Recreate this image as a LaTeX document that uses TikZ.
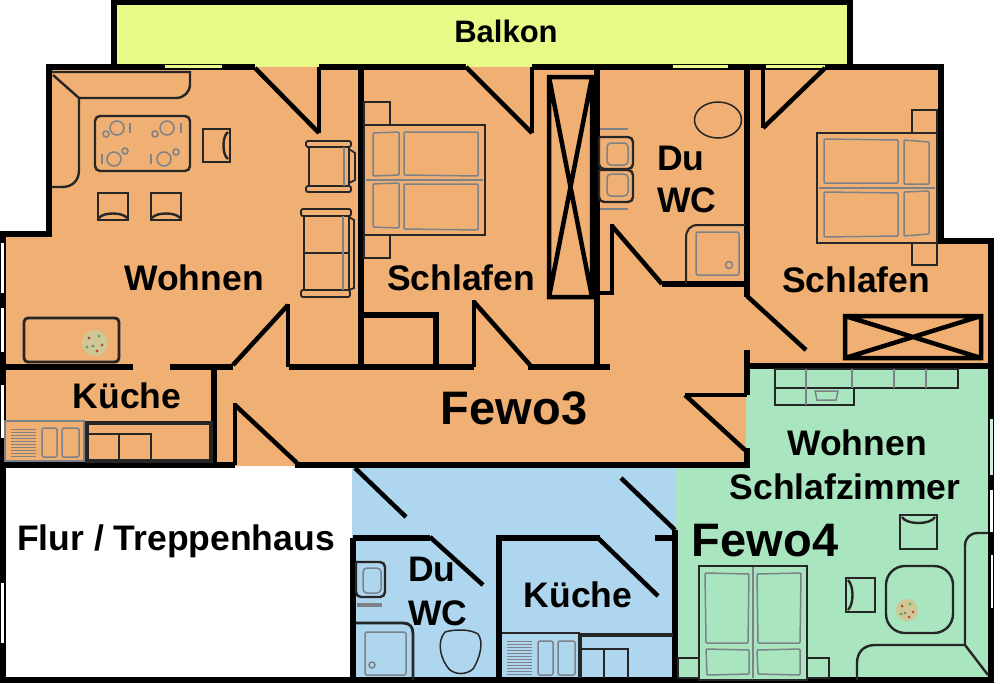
\documentclass[tikz,border=0pt]{standalone}
\usepackage{fontspec}
\setmainfont{Liberation Sans}
\definecolor{balkon}{HTML}{E8F988}
\definecolor{fewoA}{HTML}{F0AF73}
\definecolor{fewoB}{HTML}{AED6EE}
\definecolor{fewoC}{HTML}{A9E6C0}
\definecolor{fitting}{HTML}{7C8288}
\definecolor{flower}{HTML}{CFC796}
\tikzset{
	wall/.style={line width=6pt},
	door/.style={line width=4.5pt},
	stub/.style={line width=4pt},
	mobel/.style={line width=2.4pt,color=black!85},
	soft/.style={line width=1.5pt,color=fitting},
	room/.style={font=\bfseries\fontsize{35.5}{35.5}\selectfont,inner sep=0pt},
	fewo/.style={font=\bfseries\fontsize{47}{47}\selectfont,inner sep=0pt},
}
\begin{document}
\begin{tikzpicture}[x=1pt,y=-1pt]
\useasboundingbox (0,0) rectangle (1000,683);
% floors
\fill [balkon] (114,2) rectangle (850,69);
\fill [fewoB] (352,466) rectangle (680,680);
\fill [fewoC] (675,366) rectangle (991,680);
\fill [fewoA] (49,67) -- (941,67) -- (941,241) -- (991,241) -- (991,366)
	-- (746,366) -- (746,466) -- (3,466) -- (3,234) -- (49,234) -- cycle;
% balcony
\draw [wall] (114,67) -- (114,2) -- (850,2) -- (850,67);
% outer walls
\draw [wall] (255,67) -- (49,67) -- (49,234) -- (3,234) -- (3,680) -- (991,680) -- (991,241) -- (941,241) -- (941,67) -- (532,67);
\draw [wall] (319,67) -- (466,67);
\draw [wall] (3,465) -- (235,465);
\draw [wall] (295,465) -- (750,465);
\fill [balkon] (165,65) rectangle (222,68);
\fill [balkon] (673,65) rectangle (728,68);
\fill [balkon] (766,65) rectangle (825,68);
\foreach \ya/\yb in {243/293,308/352,385/438,583/643}
	\fill [white] (1,\ya) rectangle (4,\yb);
\fill [fewoC!60!white] (989.5,419) rectangle (993,475);
\fill [white] (990,490) rectangle (993,532);
\fill [white] (990.5,555) rectangle (993,608);
% inner walls
\draw [wall] (361,67) -- (361,367);
\draw [wall] (597,67) -- (597,367);
\draw [wall] (747,67) -- (747,297);
\draw [wall] (662,284) -- (747,284);
\draw [wall] (747,350) -- (747,366) -- (991,366);
\draw [wall] (3,367) -- (133,367);
\draw [wall] (170,367) -- (233,367);
\draw [wall] (289,367) -- (474,367);
\draw [wall] (528,367) -- (610,367);
\draw [wall] (214,367) -- (214,465);
\draw [wall] (361,315) -- (436,315) -- (436,367);
\draw [wall] (747,366) -- (747,395);
\draw [wall] (747,448) -- (747,465);
\draw [wall] (353,538) -- (353,680);
\draw [wall] (353,538) -- (430,538);
\draw [wall] (499,680) -- (499,538) -- (600,538);
\draw [wall] (675,530) -- (675,680);
\draw [wall] (655,538) -- (675,538);
% doors
\draw [door] (255,68) -- (319,133);
\draw [stub] (319,133) -- (319,67);
\draw [door] (466,67) -- (532,133);
\draw [stub] (532,133) -- (532,67);
\draw [door] (233,365) -- (288,305);
\draw [stub] (288,304) -- (288,367);
\draw [door] (474,302) -- (530,365);
\draw [stub] (474,300) -- (474,367);
\draw [door] (235,405) -- (297,463);
\draw [stub] (235,403) -- (235,465);
\draw [door] (612,226) -- (662,284);
\draw [stub] (612,224) -- (612,293) -- (597,293);
\draw [door] (825,68) -- (763,128);
\draw [stub] (763,128) -- (763,67);
\draw [door] (747,296) -- (806,350);
\draw [door] (685,395) -- (745,450);
\draw [stub] (685,395) -- (747,395);
\draw [door] (355,468) -- (406,517);
\draw [door] (430,537) -- (483,585);
\draw [door] (598,538) -- (658,596);
\draw [door] (621,478) -- (675,530);
% wardrobes
\draw [door] (549,77) rectangle (592,297) (549,77) -- (592,297) (592,77) -- (549,297);
\draw [door] (845,316) rectangle (981,358) (845,316) -- (981,358) (981,316) -- (845,358);
% wohnen
\draw [mobel] (52,72) -- (190,72) -- (190,84) .. controls (190,92) and (184,98) .. (176,98) -- (79,98) -- (79,170) .. controls (79,180) and (73,187) .. (62,187) -- (52,187);
\draw [mobel] (53,75) -- (79,98);
\draw [mobel,rounded corners=5pt] (95,116) rectangle (190,171);
\foreach \cx/\cy/\sx/\sy/\bx in {117/128/106/134/130,167/128/155/134/181,114/159/125/151/102,164/159/176/152/151} {
	\draw [soft] (\cx,\cy) circle (7) (\sx,\sy) circle (3);
	\draw [soft] (\bx,\cy-5) -- (\bx,\cy+5);
}
\draw [mobel] (203,129) rectangle (230,162);
\draw [mobel] (228,132) .. controls (222,136) and (222,155) .. (228,159);
\foreach \cx in {98,151} {
	\draw [mobel] (\cx,193) rectangle (\cx+30,220);
	\draw [mobel] (\cx+1,218) .. controls (\cx+5,212) and (\cx+25,212) .. (\cx+29,218);
}
\draw [mobel,line width=1.8pt,rounded corners=2pt] (306,141) rectangle (351,147);
\draw [mobel,line width=1.8pt,rounded corners=2pt] (306,186) rectangle (351,192);
\draw [mobel,line width=1.8pt] (309,147) -- (309,186) (349,147) -- (349,186);
\draw [mobel,line width=1.8pt] (349,149) -- (355,153) -- (355,180) -- (349,183);
\draw [soft] (344,147) -- (344,186);
\draw [mobel,line width=1.8pt,rounded corners=2pt] (301,209) rectangle (351,216);
\draw [mobel,line width=1.8pt,rounded corners=2pt] (301,290) rectangle (350,297);
\draw [mobel,line width=1.8pt] (304,216) -- (304,290) (349,216) -- (349,290) (304,253) -- (349,253);
\draw [mobel,line width=1.8pt] (349,217) -- (354,220) -- (354,288) -- (349,290);
\draw [soft] (343,216) -- (343,290);
\draw [mobel,line width=2.8pt,rounded corners=4pt] (24,318) rectangle (119,362);
\fill [flower] (95,343) circle (13);
\foreach \dx/\dy/\dc in {-6/-5/red!45!gray,4/-7/green!40!gray,7/2/red!35!gray,-2/3/gray,-8/4/green!35!gray,2/8/red!45!gray}
	\fill [\dc] (95+\dx,343+\dy) circle (1.7);
% kueche
\draw [soft,fill=fewoA] (5,421) rectangle (84,461);
\foreach \hy in {429,432,...,456}
	\draw [soft,line width=0.9pt] (11,\hy) -- (36,\hy);
\draw [soft,rounded corners=2pt] (42,428) rectangle (57,457) (62,428) rectangle (79,457);
\draw [mobel,line width=3.5pt] (87,423) rectangle (211,461);
\draw [mobel] (88,434) -- (151,434) -- (151,460) (119,434) -- (119,460);
% bett schlafen
\draw [mobel] (364,102) rectangle (390,125) (364,235) rectangle (390,258);
\draw [mobel,fill=fewoA] (364,125) rectangle (485,235);
\draw [soft] (366,180) -- (483,180);
\draw [soft,rounded corners=1pt] (373,133) -- (399,132) -- (399,175) -- (373,176) -- cycle (373,184) -- (399,183) -- (399,228) -- (373,227) -- cycle;
\draw [soft,rounded corners=1pt] (404,132) -- (478,132) -- (478,176) -- (404,175) -- cycle (404,184) -- (478,184) -- (478,230) -- (404,229) -- cycle;
% bad fewo3
\draw [soft] (600,129) -- (628,129) (600,209) -- (628,209);
\draw [mobel,rounded corners=5pt] (599,137) -| (633,169) -| (599,137);
\draw [mobel,rounded corners=5pt] (599,170) -| (633,202) -| (599,170);
\draw [soft,rounded corners=4pt] (607,143) rectangle (628,165) (607,174) rectangle (628,196);
\draw [mobel,line width=1.5pt] (718,120) ellipse (23.5 and 18);
\draw [mobel,line width=2pt] (686,284) -- (686,238) .. controls (686,230) and (690,225) .. (698,225) -- (745,225);
\draw [soft,rounded corners=2pt] (696,232) rectangle (739,275);
\draw [soft] (729,265) circle (3.5);
% bett schlafen rechts
\draw [mobel] (912,110) rectangle (937,133) (912,243) rectangle (937,265);
\draw [mobel,fill=fewoA] (817,133) rectangle (937,243);
\draw [soft] (819,188) -- (935,188);
\draw [soft,rounded corners=1pt] (824,139) -- (898,140) -- (898,183) -- (824,183) -- cycle (824,192) -- (898,193) -- (898,236) -- (824,237) -- cycle;
\draw [soft,rounded corners=1pt] (904,140) -- (929,142) -- (929,184) -- (904,184) -- cycle (904,192) -- (929,191) -- (929,234) -- (904,236) -- cycle;
% bad fewo4
\draw [soft] (357,604) -- (382,604) (357,606) -- (382,606);
\draw [mobel,rounded corners=5pt] (356,562) -| (385,597) -| (356,562);
\draw [soft,rounded corners=4pt] (363,568) rectangle (381,593);
\draw [mobel,line width=2.8pt] (356,623) -- (403,623) .. controls (410,623) and (413,627) .. (413,634) -- (413,680);
\draw [soft,rounded corners=2pt] (365,632) rectangle (406,675);
\draw [soft] (372,665) circle (3);
\draw [mobel,line width=1.5pt] (445,632) .. controls (455,629) and (470,629) .. (478,634) .. controls (484,642) and (480,658) .. (473,669) .. controls (466,675) and (455,675) .. (449,669) .. controls (441,660) and (436,642) .. (445,632);
% kueche fewo4
\draw [mobel,line width=1.8pt] (502,633) -- (580,633);
\foreach \hy in {641,644,...,674}
	\draw [soft,line width=0.9pt] (507,\hy) -- (532,\hy);
\draw [soft,rounded corners=2pt] (538,641) rectangle (553,675) (558,641) rectangle (575,675);
\draw [mobel,line width=3.5pt] (580,678) -- (580,635) -- (673,635);
\draw [mobel] (581,649) -- (628,649) -- (628,678) (604,649) -- (604,678);
% fewo4 zimmer
\draw [mobel] (775,369) rectangle (958,388) (775,388) rectangle (854,405);
\draw [soft] (806,369) -- (806,405) (852,369) -- (852,388) (894,369) -- (894,388) (926,369) -- (926,388);
\draw [soft] (815,391) -- (838,391) -- (836,400) -- (817,400) -- cycle;
\draw [mobel] (900,515) rectangle (937,549);
\draw [mobel] (902,517) .. controls (906,525) and (931,525) .. (935,517);
\draw [mobel] (846,578) rectangle (875,612);
\draw [mobel] (848,580) .. controls (854,586) and (854,604) .. (848,610);
\draw [mobel,rounded corners=19pt] (886,566) rectangle (953,633);
\fill [flower] (907,610) circle (11);
\foreach \dx/\dy/\dc in {-5/-4/red!45!gray,3/-6/green!40!gray,6/2/red!35!gray,-2/3/gray,-6/4/green!35!gray,2/7/red!45!gray}
	\fill [\dc] (907+\dx,610+\dy) circle (1.5);
\draw [mobel] (988,533) -- (978,533) .. controls (970,533) and (965,538) .. (965,546) -- (965,645) -- (875,645) .. controls (864,645) and (857,652) .. (857,663) -- (857,680);
\draw [mobel] (965,645) -- (988,675);
\draw [mobel] (678,658) rectangle (699,678) (807,658) rectangle (829,678);
\draw [mobel,fill=fewoC] (699,566) rectangle (807,680);
\draw [soft] (753,567) -- (753,678);
\draw [soft,rounded corners=1pt] (705,573) -- (749,574) -- (748,643) -- (706,643) -- cycle (757,574) -- (801,573) -- (800,643) -- (758,643) -- cycle;
\draw [soft,rounded corners=1pt] (706,649) -- (749,650) -- (749,674) -- (707,675) -- cycle (757,650) -- (800,649) -- (800,675) -- (758,674) -- cycle;
% labels
\node [room,font=\bfseries\fontsize{31}{31}\selectfont] (balkonlab) at (506,31) {Balkon};
\node [room] (wohnenlab) at (194,278) {Wohnen};
\node [room] (schlafenlab) at (461,278) {Schlafen};
\node [room] (dulab) at (681,158) {Du};
\node [room] (wclab) at (687,200) {WC};
\node [room] (schlafenlabb) at (856,280) {Schlafen};
\node [room] (kuechelab) at (127,396) {Küche};
\node [fewo] (fewoalab) at (514,408) {Fewo3};
\node [fewo] (fewoblab) at (765,541) {Fewo4};
\node [room] (wohnenlabb) at (857,443) {Wohnen};
\node [room] (schlafzimmerlab) at (845,487) {Schlafzimmer};
\node [room] (flurlab) at (176,541) {Flur / Treppenhaus};
\node [room] (dulabb) at (432,569) {Du};
\node [room] (wclabb) at (438,613) {WC};
\node [room] (kuechelabb) at (578,595) {Küche};
\end{tikzpicture}
\end{document}
